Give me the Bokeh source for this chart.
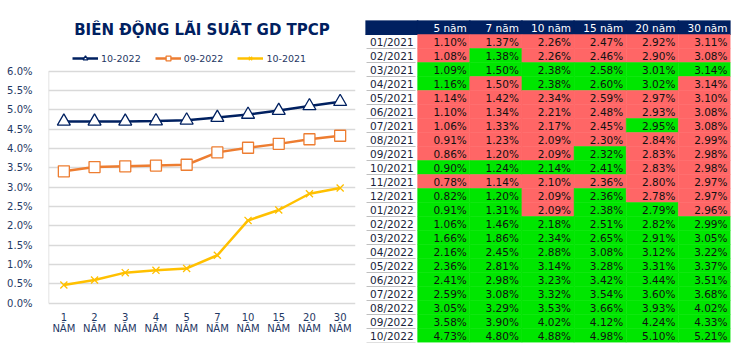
from bokeh.plotting import figure
from bokeh.models import (FactorRange, Range1d, FixedTicker, PrintfTickFormatter,
                          Legend, LegendItem, ColumnDataSource, Label)
from bokeh.layouts import row
from bokeh.transform import dodge
from bokeh.core.properties import value
from bokeh.embed import file_html
from bokeh.resources import INLINE

# ---------------- data: line chart ----------------
tenors = ["1", "2", "3", "4", "5", "7", "10", "15", "20", "30"]
tenor_units = ["NĂM", "NĂM", "NĂM", "NĂM", "NĂM", "NĂM", "NĂM", "NĂM", "NĂM", "NĂM"]
series_names = ["10-2022", "09-2022", "10-2021"]
yield_oct2022 = [4.70, 4.70, 4.70, 4.71, 4.73, 4.80, 4.88, 4.98, 5.10, 5.21]
yield_sep2022 = [3.41, 3.52, 3.54, 3.56, 3.58, 3.90, 4.02, 4.12, 4.24, 4.33]
yield_oct2021 = [0.47, 0.60, 0.79, 0.85, 0.90, 1.24, 2.14, 2.41, 2.83, 2.98]
y_ticks = [0, 0.5, 1.0, 1.5, 2.0, 2.5, 3.0, 3.5, 4.0, 4.5, 5.0, 5.5, 6.0]
chart_title = "BIẾN ĐỘNG LÃI SUẤT GD TPCP"

# ---------------- data: table ----------------
months = ["01/2021", "02/2021", "03/2021", "04/2021", "05/2021", "06/2021",
          "07/2021", "08/2021", "09/2021", "10/2021", "11/2021", "12/2021",
          "01/2022", "02/2022", "03/2022", "04/2022", "05/2022", "06/2022",
          "07/2022", "08/2022", "09/2022", "10/2022"]
table_cols = ["5 năm", "7 năm", "10 năm", "15 năm", "20 năm", "30 năm"]
rate_5y = [1.10, 1.08, 1.09, 1.16, 1.14, 1.10, 1.06, 0.91, 0.86, 0.90, 0.78,
           0.82, 0.91, 1.06, 1.66, 2.16, 2.36, 2.41, 2.59, 3.05, 3.58, 4.73]
rate_7y = [1.37, 1.38, 1.50, 1.50, 1.42, 1.34, 1.33, 1.23, 1.20, 1.24, 1.14,
           1.20, 1.31, 1.46, 1.86, 2.45, 2.81, 2.98, 3.08, 3.29, 3.90, 4.80]
rate_10y = [2.26, 2.26, 2.38, 2.38, 2.34, 2.21, 2.17, 2.09, 2.09, 2.14, 2.10,
            2.09, 2.09, 2.18, 2.34, 2.88, 3.14, 3.23, 3.32, 3.53, 4.02, 4.88]
rate_15y = [2.47, 2.46, 2.58, 2.60, 2.59, 2.48, 2.45, 2.30, 2.32, 2.41, 2.36,
            2.36, 2.38, 2.51, 2.65, 3.08, 3.28, 3.42, 3.54, 3.66, 4.12, 4.98]
rate_20y = [2.92, 2.90, 3.01, 3.02, 2.97, 2.93, 2.95, 2.84, 2.83, 2.83, 2.80,
            2.78, 2.79, 2.82, 2.91, 3.12, 3.31, 3.44, 3.60, 3.93, 4.24, 5.10]
rate_30y = [3.11, 3.08, 3.14, 3.14, 3.10, 3.08, 3.08, 2.99, 2.98, 2.98, 2.97,
            2.97, 2.96, 2.99, 3.05, 3.22, 3.37, 3.51, 3.68, 4.02, 4.33, 5.21]
# 1 = rose (green cell), 0 = fell (red cell), as shown in the source table
up_5y = [0, 0, 1, 1, 0, 0, 0, 0, 0, 1, 0, 1, 1, 1, 1, 1, 1, 1, 1, 1, 1, 1]
up_7y = [0, 1, 1, 0, 0, 0, 0, 0, 0, 1, 0, 1, 1, 1, 1, 1, 1, 1, 1, 1, 1, 1]
up_10y = [0, 0, 1, 1, 0, 0, 0, 0, 0, 1, 0, 0, 0, 1, 1, 1, 1, 1, 1, 1, 1, 1]
up_15y = [0, 0, 1, 1, 0, 0, 0, 0, 1, 1, 0, 1, 1, 1, 1, 1, 1, 1, 1, 1, 1, 1]
up_20y = [0, 0, 1, 1, 0, 0, 1, 0, 0, 0, 0, 0, 1, 1, 1, 1, 1, 1, 1, 1, 1, 1]
up_30y = [0, 0, 1, 0, 0, 0, 0, 0, 0, 0, 0, 0, 0, 1, 1, 1, 1, 1, 1, 1, 1, 1]

NAVY = "#002060"
ORANGE = "#ED7D31"
GOLD = "#FFC000"
AXIS_TXT = "#1F3864"
GRID = "#D9D9D9"
FONT = "DejaVu Sans"

# both figures share the same vertical frame (row aligns frames)
BORDER_TOP = 20
BORDER_BOTTOM = 13

# ---------------- line chart ----------------
# frame spans from the title area down past the category labels;
# the plotted area itself is 0-6 %
p = figure(x_range=FactorRange(*tenors), y_range=Range1d(-1.016, 7.31),
           width=360, height=355, output_backend="svg", toolbar_location=None,
           min_border_left=48, min_border_right=5, min_border_top=BORDER_TOP,
           min_border_bottom=BORDER_BOTTOM)
p.outline_line_color = None
p.background_fill_color = "white"

p.yaxis.ticker = FixedTicker(ticks=y_ticks)
p.yaxis.formatter = PrintfTickFormatter(format="%.1f%%")
p.yaxis.axis_line_color = None
p.yaxis.major_tick_line_color = None
p.yaxis.minor_tick_line_color = None
p.yaxis.major_label_standoff = 10
p.yaxis.major_label_text_font = FONT
p.yaxis.major_label_text_font_size = "10px"
p.yaxis.major_label_text_color = AXIS_TXT
p.xaxis.visible = False
p.xgrid.grid_line_color = None
p.ygrid.grid_line_color = GRID
p.ygrid.grid_line_width = 1.5

# left border of the plotting area (0 % to 6 %)
p.segment(x0=[0], y0=[y_ticks[0]], x1=[0], y1=[y_ticks[-1]],
          line_color=GRID, line_width=1.5)

src = ColumnDataSource(dict(t=tenors, u=tenor_units, a=yield_oct2022,
                            b=yield_sep2022, c=yield_oct2021))

# category labels (two lines) under the 0 % line
p.text("t", y_ticks[0], text="t", source=src, text_align="center",
       text_baseline="middle", y_offset=14, text_font=value(FONT),
       text_font_size="10px", text_color=AXIS_TXT)
p.text("t", y_ticks[0], text="u", source=src, text_align="center",
       text_baseline="middle", y_offset=25.5, text_font=value(FONT),
       text_font_size="10px", text_color=AXIS_TXT)

l1 = p.line("t", "a", source=src, color=NAVY, line_width=2.5)
m1 = p.scatter("t", "a", source=src, marker="triangle", size=13,
               fill_color="white", line_color=NAVY, line_width=1.3)
l2 = p.line("t", "b", source=src, color=ORANGE, line_width=2.5)
m2 = p.scatter("t", "b", source=src, marker="square", size=11,
               fill_color="white", line_color=ORANGE, line_width=1.3)
l3 = p.line("t", "c", source=src, color=GOLD, line_width=2.5)
m3 = p.scatter("t", "c", source=src, marker="x", size=10,
               line_color=GOLD, line_width=1.3)

legend = Legend(items=[LegendItem(label=series_names[0], renderers=[l1, m1]),
                       LegendItem(label=series_names[1], renderers=[l2, m2]),
                       LegendItem(label=series_names[2], renderers=[l3, m3])],
                orientation="horizontal", location=(24, 278),
                border_line_color=None, background_fill_alpha=0,
                label_text_font=FONT, label_text_font_size="9.5px",
                label_text_color=AXIS_TXT, glyph_width=26, glyph_height=12,
                label_height=12, label_standoff=3, spacing=14, padding=0,
                margin=0)
p.add_layout(legend)

title = Label(x=len(tenors) / 2, y=7.06, text=chart_title, text_align="center",
              text_baseline="middle", text_font=FONT, text_font_size="15px",
              text_font_style="bold", text_color=NAVY)
p.add_layout(title)

# ---------------- table ----------------
rates = [rate_5y, rate_7y, rate_10y, rate_15y, rate_20y, rate_30y]
ups = [up_5y, up_7y, up_10y, up_15y, up_20y, up_30y]
LABEL_COL = "Tháng"
HDR = "hdr"
x_factors = [LABEL_COL] + table_cols
y_factors = list(reversed(months)) + [HDR]

t = figure(x_range=FactorRange(*x_factors), y_range=FactorRange(*y_factors),
           width=390, height=355, output_backend="svg", toolbar_location=None,
           min_border_left=5, min_border_right=20, min_border_top=BORDER_TOP,
           min_border_bottom=BORDER_BOTTOM)
t.axis.visible = False
t.grid.grid_line_color = None
t.outline_line_color = None

# header band
hdr_src = ColumnDataSource(dict(x=x_factors, y=[HDR] * len(x_factors),
                                label=[""] + table_cols))
t.rect("x", "y", width=1.02, height=1, source=hdr_src, fill_color=NAVY,
       line_color=NAVY)
t.text(dodge("x", 0.5, range=t.x_range), "y", text="label", source=hdr_src,
       text_align="right", text_baseline="middle", x_offset=-3,
       text_font=value(FONT), text_font_size="10.5px", text_color="white")

# data cells
cx, cy, ctext, ccol = [], [], [], []
for col, vals, flags in zip(table_cols, rates, ups):
    for m, v, f in zip(months, vals, flags):
        cx.append(col)
        cy.append(m)
        ctext.append(f"{v:.2f}%")
        ccol.append("#00E600" if f else "#FF6666")
cell_src = ColumnDataSource(dict(x=cx, y=cy, txt=ctext, fill=ccol))
t.rect("x", "y", width=1, height=1, source=cell_src, fill_color="fill",
       line_color="fill", line_width=0.5)
t.text(dodge("x", 0.5, range=t.x_range), "y", text="txt", source=cell_src,
       text_align="right", text_baseline="middle", x_offset=-3,
       text_font=value(FONT), text_font_size="10.5px", text_color="#111111")

# month label column
lab_src = ColumnDataSource(dict(x=[LABEL_COL] * len(months), y=months, txt=months))
t.segment(x0=dodge("x", -0.48, range=t.x_range), y0=dodge("y", -0.5, range=t.y_range),
          x1=dodge("x", 0.46, range=t.x_range), y1=dodge("y", -0.5, range=t.y_range),
          source=lab_src, line_color="#BFBFBF", line_width=1.2)
t.text(dodge("x", 0.5, range=t.x_range), "y", text="txt", source=lab_src,
       text_align="right", text_baseline="middle", x_offset=-4,
       text_font=value(FONT), text_font_size="10.5px", text_color="#1A1F3A")

layout = row(p, t)
open("out.html", "w").write(file_html(layout, INLINE))
